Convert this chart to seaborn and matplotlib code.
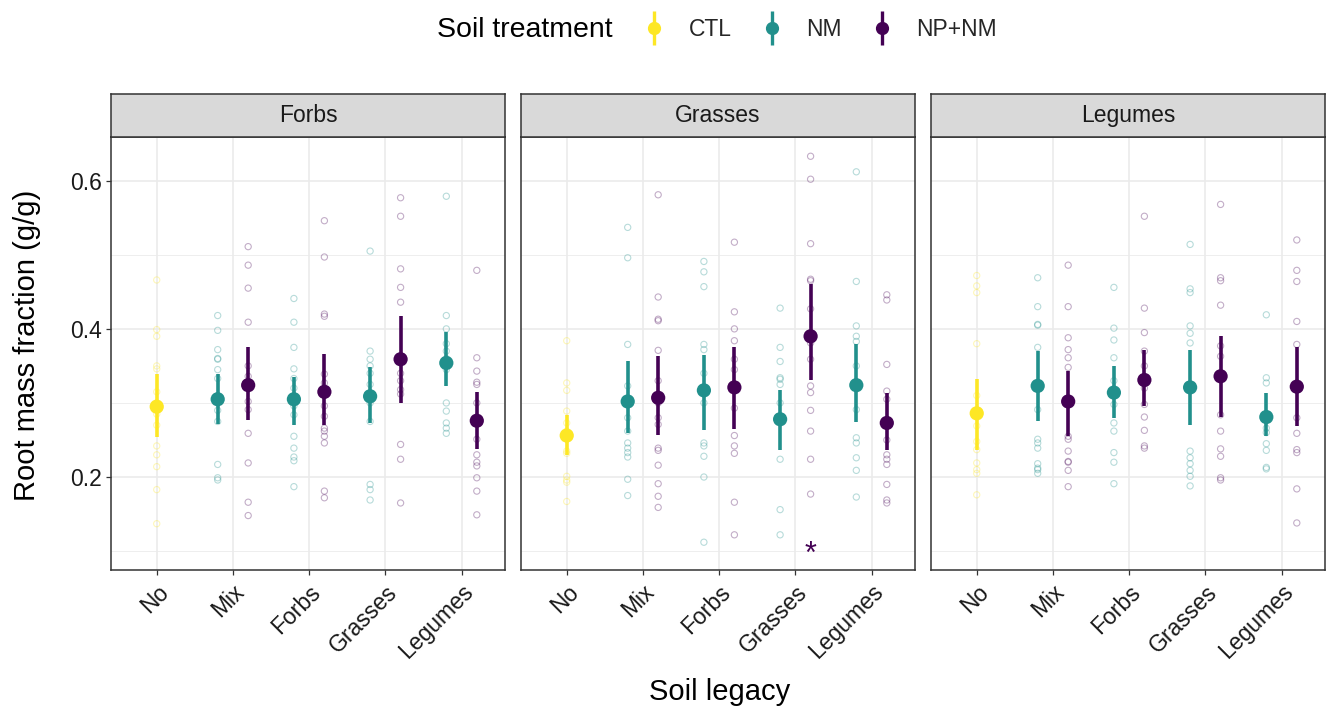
import numpy as np
import pandas as pd
import matplotlib
matplotlib.use("Agg")
import matplotlib.pyplot as plt
from matplotlib.lines import Line2D
from matplotlib.legend_handler import HandlerTuple
import seaborn as sns

# ---------------------------------------------------------------- data
panels = ["Forbs", "Grasses", "Legumes"]
legacy_levels = ["No", "Mix", "Forbs", "Grasses", "Legumes"]
treatments = ["CTL", "NM", "NP+NM"]
palette = {"CTL": "#FDE725", "NM": "#21908C", "NP+NM": "#440154"}

# order of the nine legacy x treatment groups inside every panel
group_legacy = ["No", "Mix", "Mix", "Forbs", "Forbs", "Grasses", "Grasses", "Legumes", "Legumes"]
group_treatment = ["CTL", "NM", "NP+NM", "NM", "NP+NM", "NM", "NP+NM", "NM", "NP+NM"]

# individual pots (root mass fraction, g/g)
forbs_raw = [
    [0.466, 0.399, 0.390, 0.350, 0.346, 0.315, 0.300, 0.285, 0.270, 0.242, 0.230, 0.214, 0.183, 0.137],
    [0.418, 0.398, 0.372, 0.360, 0.359, 0.345, 0.333, 0.310, 0.290, 0.275, 0.217, 0.199, 0.196],
    [0.511, 0.486, 0.455, 0.409, 0.350, 0.336, 0.302, 0.291, 0.259, 0.219, 0.166, 0.148],
    [0.441, 0.409, 0.375, 0.346, 0.333, 0.320, 0.296, 0.284, 0.255, 0.239, 0.227, 0.222, 0.187],
    [0.546, 0.497, 0.420, 0.417, 0.339, 0.327, 0.310, 0.296, 0.282, 0.266, 0.262, 0.255, 0.246, 0.181, 0.172],
    [0.505, 0.370, 0.359, 0.350, 0.340, 0.325, 0.300, 0.275, 0.190, 0.183, 0.169],
    [0.577, 0.552, 0.481, 0.456, 0.436, 0.340, 0.330, 0.318, 0.312, 0.244, 0.224, 0.165],
    [0.579, 0.418, 0.400, 0.380, 0.370, 0.360, 0.345, 0.300, 0.289, 0.273, 0.266, 0.259],
    [0.479, 0.361, 0.343, 0.328, 0.325, 0.300, 0.251, 0.230, 0.220, 0.215, 0.199, 0.181, 0.149],
]
grasses_raw = [
    [0.384, 0.327, 0.317, 0.289, 0.273, 0.262, 0.235, 0.232, 0.201, 0.196, 0.193, 0.167],
    [0.537, 0.496, 0.379, 0.323, 0.300, 0.280, 0.262, 0.246, 0.239, 0.233, 0.227, 0.197, 0.175],
    [0.581, 0.443, 0.413, 0.411, 0.371, 0.330, 0.300, 0.280, 0.271, 0.239, 0.236, 0.216, 0.191, 0.174, 0.159],
    [0.491, 0.477, 0.457, 0.379, 0.372, 0.340, 0.300, 0.246, 0.242, 0.228, 0.200, 0.112],
    [0.517, 0.423, 0.400, 0.384, 0.359, 0.345, 0.293, 0.256, 0.242, 0.232, 0.166, 0.122],
    [0.428, 0.375, 0.356, 0.334, 0.332, 0.325, 0.300, 0.224, 0.156, 0.122],
    [0.633, 0.602, 0.515, 0.467, 0.465, 0.427, 0.381, 0.359, 0.323, 0.314, 0.290, 0.262, 0.224, 0.177],
    [0.612, 0.464, 0.404, 0.390, 0.383, 0.350, 0.291, 0.253, 0.246, 0.226, 0.209, 0.173],
    [0.446, 0.439, 0.352, 0.316, 0.305, 0.250, 0.230, 0.224, 0.217, 0.190, 0.169, 0.165],
]
legumes_raw = [
    [0.472, 0.458, 0.449, 0.380, 0.310, 0.269, 0.248, 0.237, 0.219, 0.210, 0.205, 0.176],
    [0.469, 0.430, 0.406, 0.405, 0.375, 0.291, 0.251, 0.246, 0.239, 0.218, 0.212, 0.210, 0.205],
    [0.486, 0.430, 0.388, 0.372, 0.361, 0.348, 0.255, 0.251, 0.235, 0.221, 0.220, 0.209, 0.187],
    [0.456, 0.401, 0.385, 0.361, 0.330, 0.298, 0.273, 0.262, 0.233, 0.220, 0.191],
    [0.552, 0.428, 0.395, 0.370, 0.350, 0.320, 0.298, 0.281, 0.263, 0.242, 0.239],
    [0.514, 0.454, 0.449, 0.404, 0.394, 0.381, 0.235, 0.226, 0.218, 0.209, 0.201, 0.188],
    [0.568, 0.469, 0.465, 0.432, 0.377, 0.363, 0.284, 0.262, 0.238, 0.228, 0.199, 0.196],
    [0.419, 0.334, 0.327, 0.266, 0.260, 0.245, 0.236, 0.213, 0.211],
    [0.520, 0.479, 0.464, 0.410, 0.379, 0.280, 0.259, 0.237, 0.233, 0.184, 0.138],
]

# model estimates with confidence limits
forbs_mean = [0.295, 0.305, 0.324, 0.305, 0.315, 0.309, 0.359, 0.354, 0.276]
forbs_lower = [0.254, 0.271, 0.277, 0.270, 0.270, 0.273, 0.300, 0.323, 0.238]
forbs_upper = [0.339, 0.339, 0.375, 0.335, 0.366, 0.349, 0.418, 0.396, 0.315]

grasses_mean = [0.256, 0.302, 0.307, 0.317, 0.321, 0.278, 0.390, 0.324, 0.273]
grasses_lower = [0.230, 0.259, 0.257, 0.264, 0.265, 0.236, 0.331, 0.274, 0.237]
grasses_upper = [0.284, 0.356, 0.363, 0.365, 0.375, 0.317, 0.460, 0.379, 0.313]

legumes_mean = [0.286, 0.323, 0.302, 0.314, 0.331, 0.321, 0.336, 0.281, 0.322]
legumes_lower = [0.237, 0.276, 0.256, 0.280, 0.296, 0.270, 0.281, 0.255, 0.269]
legumes_upper = [0.332, 0.370, 0.343, 0.350, 0.372, 0.372, 0.390, 0.314, 0.375]

# significance marks: (panel, legacy, treatment, y)
signif_panel = ["Grasses"]
signif_legacy = ["Grasses"]
signif_treatment = ["NP+NM"]
signif_y = [0.084]

# ---------------------------------------------------------------- tidy frames
raw_rows = []
for panel, groups in zip(panels, [forbs_raw, grasses_raw, legumes_raw]):
    for leg, trt, values in zip(group_legacy, group_treatment, groups):
        for v in values:
            raw_rows.append((panel, leg, trt, v))
raw = pd.DataFrame(raw_rows, columns=["group", "legacy", "treatment", "rmf"])

est_rows = []
for panel, m, lo, hi in zip(panels,
                            [forbs_mean, grasses_mean, legumes_mean],
                            [forbs_lower, grasses_lower, legumes_lower],
                            [forbs_upper, grasses_upper, legumes_upper]):
    for leg, trt, a, b, c in zip(group_legacy, group_treatment, m, lo, hi):
        est_rows.append((panel, leg, trt, a, b, c))
est = pd.DataFrame(est_rows, columns=["group", "legacy", "treatment", "mean", "lower", "upper"])

dodge = {"CTL": 0.0, "NM": -0.2, "NP+NM": 0.2}
pos = {lv: i for i, lv in enumerate(legacy_levels)}
for df in (raw, est):
    df["x"] = df["legacy"].map(pos) + df["treatment"].map(dodge)

# ---------------------------------------------------------------- style
sns.set_theme(style="white")
plt.rcParams["font.family"] = ["Liberation Sans", "DejaVu Sans"]

W, H = 1326, 712
fig = plt.figure(figsize=(W / 100, H / 100), dpi=100)

edge = "#333333"
grid = "#EBEBEB"
text_dark = "#1A1A1A"

panel_left = [111, 521, 931]
panel_w = 394
panel_top, panel_bottom = 137, 570
strip_top = 94

for i, panel in enumerate(panels):
    l = panel_left[i] / W
    ax = fig.add_axes([l, (H - panel_bottom) / H, panel_w / W, (panel_bottom - panel_top) / H])
    sub_raw = raw[raw["group"] == panel]
    sub_est = est[est["group"] == panel]

    # raw observations as faint open circles
    sns.scatterplot(data=sub_raw, x="x", y="rmf", hue="treatment", hue_order=treatments,
                    palette=palette, s=20, linewidth=0.8, legend=False, ax=ax, zorder=2)
    coll = ax.collections[-1]
    fc = np.array(coll.get_facecolors())
    fc[:, 3] = 0.32
    coll.set_edgecolors(fc)
    coll.set_facecolors("none")

    # estimate with confidence interval
    ax.vlines(sub_est["x"], sub_est["lower"], sub_est["upper"],
              colors=[palette[t] for t in sub_est["treatment"]], lw=2.6, zorder=3)
    sns.scatterplot(data=sub_est, x="x", y="mean", hue="treatment", hue_order=treatments,
                    palette=palette, s=105, linewidth=0, legend=False, ax=ax, zorder=4)

    for sp, sl, st, sy in zip(signif_panel, signif_legacy, signif_treatment, signif_y):
        if sp == panel:
            ax.text(pos[sl] + dodge[st], sy, "*", color=palette[st], fontsize=22,
                    ha="center", va="baseline", zorder=5)

    ax.set_xlim(-0.6, 4.57)
    ax.set_ylim(0.0745, 0.659)
    ax.set_xticks(range(len(legacy_levels)))
    ax.set_xticklabels(legacy_levels, rotation=45, ha="right", rotation_mode="anchor")
    ax.set_yticks([0.2, 0.4, 0.6])
    ax.set_yticklabels(["0.2", "0.4", "0.6"])
    ax.set_yticks([0.1, 0.3, 0.5], minor=True)
    ax.set_axisbelow(True)
    ax.grid(True, which="major", color=grid, lw=1.2)
    ax.grid(True, which="minor", axis="y", color=grid, lw=0.6)
    ax.set_xlabel("")
    ax.set_ylabel("")
    for s in ax.spines.values():
        s.set_color(edge)
        s.set_linewidth(1.1)
    ax.tick_params(axis="both", which="major", length=3.5, width=0.9, color=edge,
                   labelsize=16.5, labelcolor=text_dark, pad=3)
    ax.tick_params(which="minor", length=0)
    ax.tick_params(axis="x", bottom=True, pad=4)
    ax.tick_params(axis="y", left=(i == 0), labelleft=(i == 0))

    # facet strip
    sax = fig.add_axes([l, (H - panel_top) / H, panel_w / W, (panel_top - strip_top) / H])
    sax.set_facecolor("#D9D9D9")
    sax.set_xticks([])
    sax.set_yticks([])
    for s in sax.spines.values():
        s.set_color(edge)
        s.set_linewidth(1.1)
    sax.text(0.5, 0.5, panel, ha="center", va="center", fontsize=16.5,
             color=text_dark, transform=sax.transAxes)

fig.text(27.5 / W, 1 - 345 / H, "Root mass fraction (g/g)", rotation=90,
         ha="center", va="center", fontsize=21, color="black")
fig.text(720 / W, 1 - 692 / H, "Soil legacy", ha="center", va="center",
         fontsize=21, color="black")

# legend
fig.text(437 / W, 1 - 30 / H, "Soil treatment", ha="left", va="center",
         fontsize=20.5, color="black")
handles = [(Line2D([], [], ls="none", marker="|", ms=24, mew=2.4, color=palette[t]),
            Line2D([], [], ls="none", marker="o", ms=8.5, color=palette[t]))
           for t in treatments]
fig.legend(handles, treatments, handler_map={tuple: HandlerTuple(ndivide=1)},
           ncol=3, loc="center left", bbox_to_anchor=(643 / W, 1 - 30 / H),
           frameon=False, fontsize=16.5, handlelength=1.0, handletextpad=1.0,
           columnspacing=1.25, borderpad=0, borderaxespad=0, numpoints=1)

fig.savefig("out.png", dpi=100)
